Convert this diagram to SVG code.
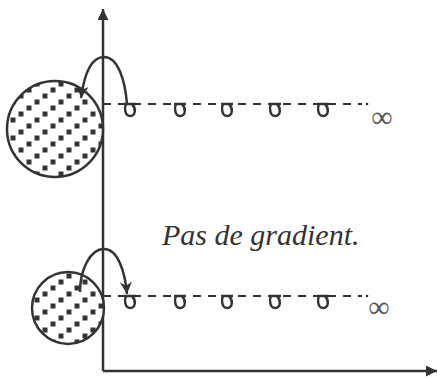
<svg xmlns="http://www.w3.org/2000/svg" width="438" height="378" viewBox="0 0 438 378">
<style>
.ln{stroke:#333;stroke-width:2.5;fill:none}
.dash{stroke:#333;stroke-width:2.2;fill:none;stroke-dasharray:8 7}
.loop{stroke:#333;stroke-width:2.5;fill:none}
.disk{stroke:#333;stroke-width:2.5;fill:url(#dots)}
.inf{font-family:'Liberation Serif','Times New Roman','DejaVu Serif',serif;font-size:30px;fill:#555;text-anchor:middle}
.lbl{font-family:'Liberation Serif','Times New Roman','DejaVu Serif',serif;font-style:italic;font-size:30px;fill:#333}
</style>
<defs>
<pattern id="dots" x="2" y="3" width="24" height="18" patternUnits="userSpaceOnUse">
<rect width="24" height="18" fill="#fff"/>
<rect x="0.5" y="12.5" width="5" height="5" fill="#333"/>
<rect x="8.5" y="6.5" width="5" height="5" fill="#333"/>
<rect x="16.5" y="0.5" width="5" height="5" fill="#333"/>
</pattern>
<marker id="ah" viewBox="0 0 10 10" refX="10" refY="5" markerWidth="14" markerHeight="12" markerUnits="userSpaceOnUse" orient="auto">
<path d="M0,0 L10,5 L0,10 L3,5 z" fill="#333"/>
</marker>
<marker id="axh" viewBox="0 0 10 10" refX="10" refY="5" markerWidth="12" markerHeight="11" markerUnits="userSpaceOnUse" orient="auto">
<path d="M0,0 L10,5 L0,10 z" fill="#333"/>
</marker>
<g id="lp"><path d="M-6,0 L6,0 M-4,0 C-6,4 -5,12 0,12 C6,12 6,4 2,0" class="loop"/></g>
</defs>
<g id="axes">
<path class="ln" d="M103,371 L103,9" marker-end="url(#axh)"/>
<path class="ln" d="M103,371 L437,371" marker-end="url(#axh)"/>
</g>
<g id="disk-top"><circle class="disk" cx="55" cy="129" r="48"/></g>
<g id="disk-bottom"><circle class="disk" cx="68" cy="308" r="36"/></g>
<g id="chain-top">
<path class="dash" d="M103,104 L362,104"/>
<use href="#lp" x="130" y="104"/>
<use href="#lp" x="180" y="104"/>
<use href="#lp" x="227" y="104"/>
<use href="#lp" x="275" y="104"/>
<use href="#lp" x="323" y="104"/>
<circle cx="367" cy="104" r="1.3" fill="#333"/>
<text class="inf" x="382" y="127">∞</text>
</g>
<g id="chain-bottom">
<path class="dash" d="M103,296 L362,296"/>
<use href="#lp" x="130" y="296"/>
<use href="#lp" x="180" y="296"/>
<use href="#lp" x="227" y="296"/>
<use href="#lp" x="275" y="296"/>
<use href="#lp" x="323" y="296"/>
<circle cx="367" cy="296" r="1.3" fill="#333"/>
<text class="inf" x="379" y="317">∞</text>
</g>
<g id="connectors">
<path class="ln" d="M127,104 C125,80 118,57 104,57 C90,57 84,76 81,98" marker-end="url(#ah)"/>
<path class="ln" d="M80,292 C80,270 90,249 104,249 C118,249 125,272 127,294" marker-end="url(#ah)"/>
</g>
<g id="label"><text class="lbl" x="162" y="245">Pas de gradient.</text></g>
</svg>
